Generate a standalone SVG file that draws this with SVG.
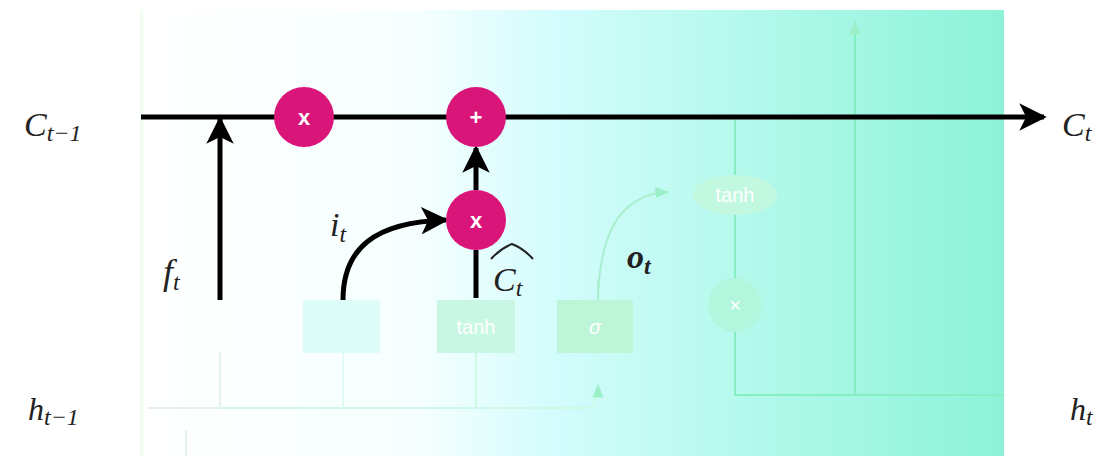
<svg xmlns="http://www.w3.org/2000/svg" width="1105" height="461" viewBox="0 0 1105 461">
<defs>
<linearGradient id="bg" x1="0" y1="0" x2="1" y2="0">
<stop offset="0" stop-color="#ffffff"/>
<stop offset="0.32" stop-color="#f6ffff"/>
<stop offset="0.48" stop-color="#d3fcfc"/>
<stop offset="0.7" stop-color="#b4f9ec"/>
<stop offset="1" stop-color="#8cf3d7"/>
</linearGradient>
<marker id="ah" viewBox="0 0 10 10" refX="9" refY="5" markerWidth="5.5" markerHeight="5.5" orient="auto" markerUnits="strokeWidth">
<path d="M0,0 L10,5 L0,10 L2.5,5 Z" fill="#000"/>
</marker>
<marker id="fah" viewBox="0 0 10 10" refX="9" refY="5" markerWidth="7" markerHeight="7" orient="auto" markerUnits="strokeWidth">
<path d="M0,1 L10,5 L0,9 Z" fill="#9cefc6"/>
</marker>
<style>
.lbl{font-family:"Liberation Serif",serif;font-style:italic;fill:#222}
.op{fill:#d9157a}
.opt{font-family:"Liberation Sans",Arial,sans-serif;font-weight:bold;font-size:22px;fill:#fff;text-anchor:middle}
.ft{font-family:"Liberation Sans",Arial,sans-serif;font-size:20px;fill:#fff;text-anchor:middle}
.blk{stroke:#000;stroke-width:5;fill:none}
.faint{stroke:#86eec3;stroke-width:2;fill:none}
.faint2{stroke:#e6f2f0;stroke-width:2;fill:none}
</style>
</defs>
<rect id="background" x="141" y="10" width="863" height="446" fill="url(#bg)"/>
<line x1="141.5" y1="10" x2="141.5" y2="456" stroke="#eafde9" stroke-width="2"/>
<g id="connectors">
<path class="faint2" d="M147,408 H220"/>
<path d="M220,408 H585 Q598,408 598,385" stroke="#cff8e6" stroke-width="2" fill="none" marker-end="url(#fah)"/>
<line class="faint2" x1="220" y1="352" x2="220" y2="408"/>
<line x1="343" y1="352" x2="343" y2="408" stroke="#e2faf4" stroke-width="2"/>
<line x1="476" y1="352" x2="476" y2="408" stroke="#cdf8e6" stroke-width="2"/>
<line class="faint2" x1="186" y1="430" x2="186" y2="456"/>
<line x1="598" y1="280" x2="598" y2="300" stroke="#b8f3d8" stroke-width="2"/>
<path d="M598,300 Q600,195 668,192" stroke="#a8f0cd" stroke-width="2" fill="none" marker-end="url(#fah)"/>
<path class="faint" d="M735,117 V395 H1004"/>
<path class="faint" d="M855,395 V22" marker-end="url(#fah)"/>
<line class="blk" x1="141" y1="117" x2="1044" y2="117" marker-end="url(#ah)"/>
<line class="blk" x1="220" y1="300" x2="220" y2="119" marker-end="url(#ah)"/>
<path class="blk" d="M343,300 C343,248 375,222 446,220" marker-end="url(#ah)"/>
<line class="blk" x1="476" y1="298" x2="476" y2="250"/>
<line class="blk" x1="476" y1="190" x2="476" y2="148" marker-end="url(#ah)"/>
</g>
<g id="box-input">
<rect x="303" y="300" width="77" height="53" fill="#dffdf8"/>
</g>
<g id="box-tanh">
<rect x="437" y="300" width="78" height="53" fill="#c8f8e4"/>
<text class="ft" x="476" y="334">tanh</text>
</g>
<g id="box-sigma">
<rect x="557" y="300" width="76" height="53" fill="#bdf5d9"/>
<text class="ft" x="595" y="334" font-style="italic">σ</text>
</g>
<g id="ellipse-tanh">
<ellipse cx="735" cy="195" rx="42" ry="20" fill="#c3f8e0"/>
<text class="ft" x="735" y="202">tanh</text>
</g>
<g id="mult-out">
<circle cx="735" cy="305" r="27" fill="#b2f6dd"/>
<text class="ft" x="735" y="312">×</text>
</g>
<g id="mult-forget">
<circle class="op" cx="304" cy="117" r="30"/>
<text class="opt" x="304" y="125">x</text>
</g>
<g id="add-cell">
<circle class="op" cx="476" cy="117" r="30"/>
<text class="opt" x="476" y="125">+</text>
</g>
<g id="mult-input">
<circle class="op" cx="476" cy="220" r="30"/>
<text class="opt" x="476" y="228">x</text>
</g>
<g id="labels">
<text class="lbl" x="24" y="136" font-size="34">C<tspan font-size="24" dy="5">t−1</tspan></text>
<text class="lbl" x="28" y="420" font-size="32">h<tspan font-size="24" dy="5">t−1</tspan></text>
<text class="lbl" x="1062" y="136" font-size="34">C<tspan font-size="24" dy="5">t</tspan></text>
<text class="lbl" x="1070" y="420" font-size="32">h<tspan font-size="24" dy="5">t</tspan></text>
<text class="lbl" x="163" y="284" font-size="36">f<tspan font-size="24" dy="6">t</tspan></text>
<text class="lbl" x="330" y="236" font-size="34">i<tspan font-size="24" dy="6">t</tspan></text>
<text class="lbl" x="627" y="268" font-size="34" font-weight="bold">o<tspan font-size="24" dy="6">t</tspan></text>
<text class="lbl" x="493" y="291" font-size="34">C<tspan font-size="24" dy="5">t</tspan></text>
<path d="M491,259 Q501,248 512,244 Q523,248 533,259" stroke="#222" stroke-width="2" fill="none"/>
</g>
</svg>
